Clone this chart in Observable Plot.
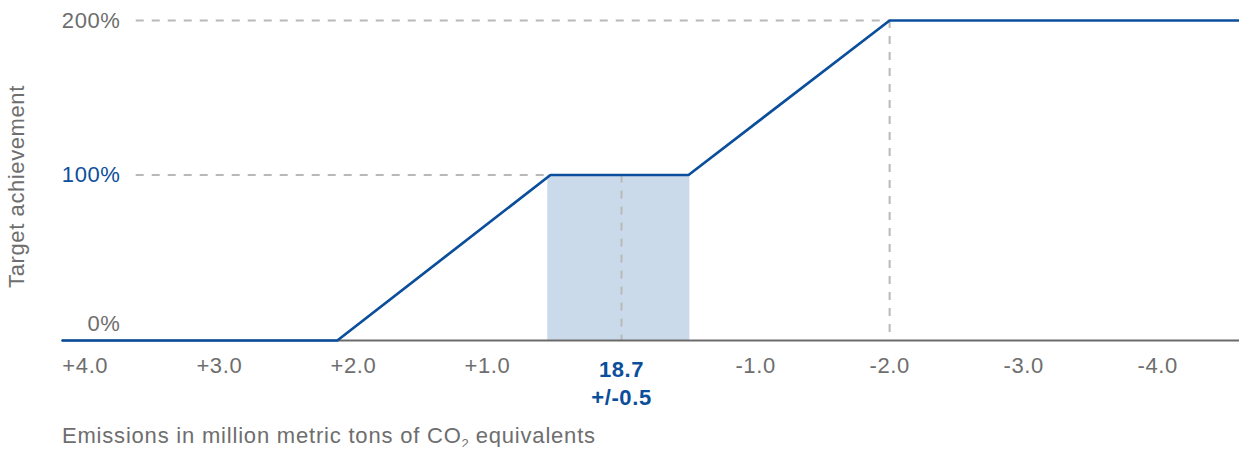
<!DOCTYPE html>
<html><head><meta charset="utf-8">
<script src="https://cdn.jsdelivr.net/npm/d3@7"></script>
<script src="https://cdn.jsdelivr.net/npm/@observablehq/plot@0.6"></script>
<style>
body{margin:0;background:#fff;font-family:"Liberation Sans",Arial,sans-serif;}
#caption{font-size:22px;letter-spacing:0.8px;color:#6e6e6e;padding-left:62px;line-height:22px;margin-top:5px;white-space:nowrap;}
#caption sub{font-size:13px;vertical-align:-5px;line-height:0;letter-spacing:0;}
</style></head><body>
<div id="chart"></div>
<div id="caption">Emissions in million metric tons of CO<sub>2</sub> equivalents</div>
<script>
// x: deviation from target (million metric tons), axis reversed
const xTicks = [4, 3, 2, 1, -1, -2, -3, -4];
const xTickLabels = ["+4.0", "+3.0", "+2.0", "+1.0", "-1.0", "-2.0", "-3.0", "-4.0"];
const targetTick = [0];
const targetLabel = "18.7\n+/-0.5";
// achievement curve
const curveX = [4.17, 2.12, 0.53, -0.5, -2.0, -4.61];
const curveY = [0, 0, 100, 100, 200, 200];
// tolerance band
const bandX = [0.55, -0.51];
const bandY = [0, 100];
// y ticks
const yTicks = [0, 100, 200];
const yTickLabels = ["0%", "100%", "200%"];
// dashed guides
const hGuideY = [100, 200];
const hGuideFrom = [3.62, 3.62];
const hGuideTo = [0.53, -2.0];
const vGuideX = [0, -2.0];
const vGuideTop = [100, 200];

const BLUE = "#0b4e9b", GRAY = "#6e6e6e", DASH = "#b8b8b8", SHADE = "#cbdaea";

// the upper half of the y axis is drawn slightly compressed in the original
const upperRatio = 154.5 / 165.5;
const yT = v => (v <= 100 ? v : 100 + (v - 100) * upperRatio);

const curve = curveX.map((x, i) => ({x, y: curveY[i]}));
const band = [{x1: bandX[0], x2: bandX[1], y1: bandY[0], y2: bandY[1]}];
const hGuides = hGuideY.map((y, i) => ({y, x1: hGuideFrom[i], x2: hGuideTo[i]}));
const vGuides = vGuideX.map((x, i) => ({x, y1: 0, y2: vGuideTop[i]}));
const yLab = d => yTickLabels[yTicks.indexOf(d)];

const chart = Plot.plot({
  width: 1239,
  height: 420,
  marginLeft: 62,
  marginRight: 0,
  marginTop: 20,
  marginBottom: 80,
  style: {fontFamily: "'Liberation Sans', Arial, sans-serif", fontSize: "22px", letterSpacing: "0.6px", color: GRAY, background: "white", overflow: "visible"},
  x: {domain: [4.17, -4.61], axis: null},
  y: {domain: [0, yT(200)], transform: yT, axis: null},
  marks: [
    Plot.rectY(band, {x1: "x1", x2: "x2", y1: "y1", y2: "y2", fill: SHADE}),
    Plot.ruleY(hGuides, {y: "y", x1: "x1", x2: "x2", stroke: DASH, strokeWidth: 2, strokeDasharray: "8,8"}),
    Plot.ruleX(vGuides, {x: "x", y1: "y2", y2: "y1", stroke: DASH, strokeWidth: 2, strokeDasharray: "8,8"}),
    Plot.ruleY([0], {stroke: "#6b6b6b", strokeWidth: 2}),
    Plot.line(curve, {x: "x", y: "y", stroke: BLUE, strokeWidth: 2.7, strokeLinejoin: "miter"}),
    Plot.axisX(xTicks, {tickFormat: d => xTickLabels[xTicks.indexOf(d)], tickSize: 0, tickPadding: 17, label: null, fill: GRAY, fontSize: 22}),
    Plot.axisX(targetTick, {tickFormat: () => targetLabel, tickSize: 0, tickPadding: 17, label: null, fill: BLUE, fontWeight: "bold", fontSize: 22, lineHeight: 1.27}),
    Plot.axisY([200], {tickFormat: yLab, tickSize: 0, tickPadding: 0, dx: 58, fill: GRAY, fontSize: 22, label: null}),
    Plot.axisY([100], {tickFormat: yLab, tickSize: 0, tickPadding: 0, dx: 58, fill: BLUE, fontSize: 22, label: null}),
    Plot.axisY([0], {tickFormat: yLab, tickSize: 0, tickPadding: 0, dx: 58, dy: -17, fill: GRAY, fontSize: 22, label: null}),
    Plot.text(["Target achievement"], {text: d => d, frameAnchor: "left", rotate: -90, textAnchor: "middle", lineAnchor: "top", dx: -54, dy: 6, fill: GRAY, fontSize: 22})
  ]
});
document.getElementById("chart").append(chart);
</script>
</body></html>
